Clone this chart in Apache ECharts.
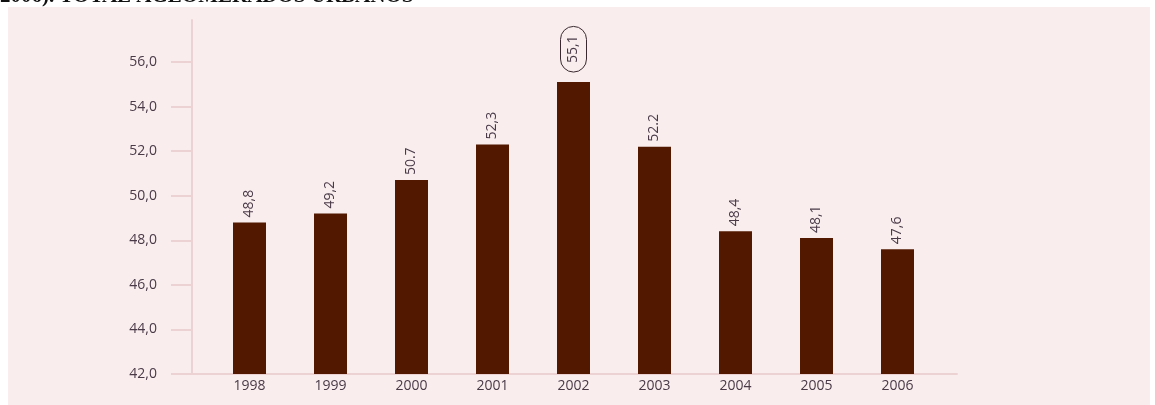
<!DOCTYPE html>
<html>
<head>
<meta charset="utf-8">
<script src="https://cdn.jsdelivr.net/npm/echarts@6/dist/echarts.min.js"></script>
<style>html,body{margin:0;padding:0;background:#fff}#c{width:1155px;height:405px}</style>
</head>
<body>
<div id="c"></div>
<script>
var categories = ['1998','1999','2000','2001','2002','2003','2004','2005','2006'];
var values = [48.8, 49.2, 50.7, 52.3, 55.1, 52.2, 48.4, 48.1, 47.6];
var valueLabels = ['48,8','49,2','50.7','52,3','55,1','52.2','48,4','48,1','47,6'];
var yTickLabels = ['42,0','44,0','46,0','48,0','50,0','52,0','54,0','56,0'];
var highlightIndex = 4;
var titleText = '2006). TOTAL AGLOMERADOS URBANOS';

var pink = '#ecd2d2';
var textColor = '#4a3a48';
var chart = echarts.init(document.getElementById('c'), null, {renderer: 'canvas'});
var seriesData = values.map(function (v, i) {
  var item = {value: v};
  if (i === highlightIndex) {
    item.label = {
      padding: [6, 9],
      borderColor: '#3a2a30',
      borderWidth: 1,
      borderRadius: 14,
      distance: 10
    };
  }
  return item;
});
chart.setOption({
  backgroundColor: '#ffffff',
  animation: false,
  graphic: [
    {type: 'rect', z: -100, shape: {x: 8, y: 7, width: 1142, height: 400}, style: {fill: '#f9eded'}},
    {type: 'text', z: 10, x: 0, y: 7, style: {text: titleText, fill: '#111', font: 'bold 21px "Liberation Serif", serif', verticalAlign: 'bottom', align: 'left'}}
  ],
  grid: [
    {left: 209, right: 217, top: 62, bottom: 31},
    {left: 192, right: 198, top: 20, bottom: 31}
  ],
  xAxis: [
    {
      type: 'category', gridIndex: 0, data: categories,
      axisLine: {show: false}, axisTick: {show: false},
      axisLabel: {color: textColor, fontFamily: 'Open Sans', fontSize: 14, margin: 5}
    },
    {
      type: 'value', gridIndex: 1, min: 0, max: 1,
      axisLine: {show: true, lineStyle: {color: pink, width: 2}},
      axisTick: {show: false}, axisLabel: {show: false}, splitLine: {show: false}
    }
  ],
  yAxis: [
    {
      type: 'value', gridIndex: 0, min: 42, max: 56, interval: 2, offset: 17,
      axisLine: {show: false},
      axisTick: {show: true, length: 21, lineStyle: {color: pink, width: 2}},
      splitLine: {show: false},
      axisLabel: {
        color: textColor, fontFamily: 'Open Sans', fontSize: 14, margin: 35,
        formatter: function (v) { return yTickLabels[Math.round((v - 42) / 2)]; }
      }
    },
    {
      type: 'value', gridIndex: 1, min: 0, max: 1,
      axisLine: {show: true, lineStyle: {color: pink, width: 2}},
      axisTick: {show: false}, axisLabel: {show: false}, splitLine: {show: false}
    }
  ],
  series: [{
    type: 'bar', xAxisIndex: 0, yAxisIndex: 0,
    data: seriesData, barWidth: 33,
    itemStyle: {color: '#521900'},
    label: {
      show: true, position: 'top', rotate: 90, align: 'left', verticalAlign: 'middle',
      distance: 5, color: textColor, fontFamily: 'Open Sans', fontSize: 14,
      formatter: function (p) { return valueLabels[p.dataIndex]; }
    }
  }]
});
</script>
</body>
</html>
